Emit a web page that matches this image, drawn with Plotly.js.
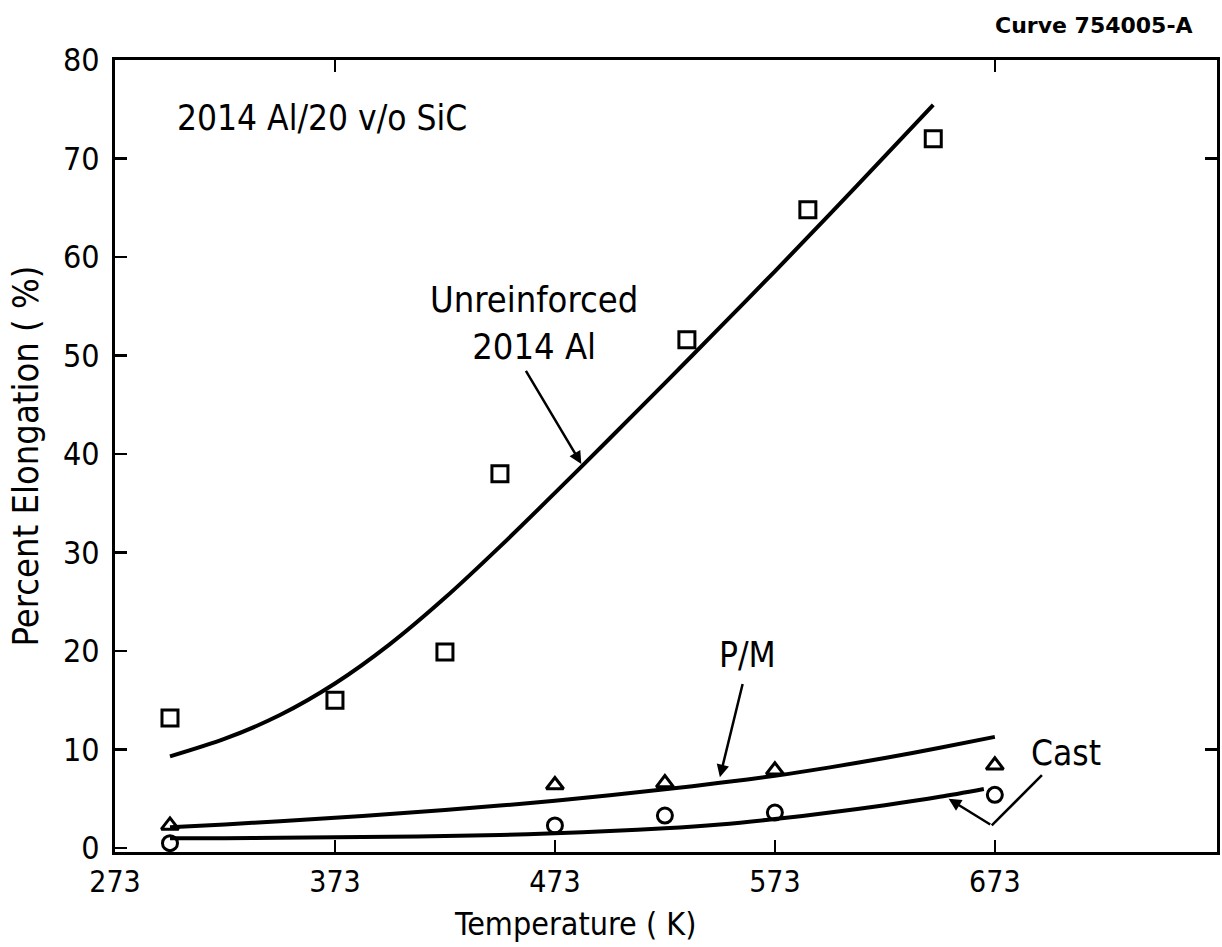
<!DOCTYPE html>
<html>
<head>
<meta charset="utf-8">
<script src="https://cdn.plot.ly/plotly-3.0.1.min.js"></script>
<style>html,body{margin:0;padding:0;background:#fff;}#chart{width:1222px;height:947px;}</style>
</head>
<body>
<div id="chart"></div>
<script>
// ---- data ----
var tempTicks = [273, 373, 473, 573, 673];
var elongTicks = [0, 10, 20, 30, 40, 50, 60, 70, 80];

// Unreinforced 2014 Al
var unrX = [298, 373, 423, 448, 533, 588, 645];
var unrY = [13.2, 15.0, 19.9, 38.0, 51.6, 64.8, 72.0];
var unrFitX = [298, 323, 348, 373, 398, 423, 448, 473, 498, 523, 548, 573, 598, 623, 645];
var unrFitY = [9.3, 11.1, 13.5, 16.7, 20.7, 25.4, 30.6, 36.05, 41.6, 47.2, 52.85, 58.55, 64.35, 70.25, 75.45];

// P/M composite
var pmX = [298, 473, 523, 573, 673];
var pmY = [2.3, 6.4, 6.6, 7.9, 8.4];
var pmFitX = [298, 323, 348, 373, 398, 423, 448, 473, 498, 523, 548, 573, 598, 623, 648, 673];
var pmFitY = [2.1, 2.4, 2.72, 3.07, 3.45, 3.86, 4.31, 4.81, 5.36, 5.96, 6.62, 7.34, 8.19, 9.14, 10.19, 11.29];

// Cast composite
var castX = [298, 473, 523, 573, 673];
var castY = [0.5, 2.3, 3.3, 3.6, 5.4];
var castFitX = [298, 323, 348, 373, 398, 423, 448, 473, 498, 523, 548, 573, 598, 623, 648, 668];
var castFitY = [1.0, 1.0, 1.05, 1.1, 1.15, 1.22, 1.33, 1.5, 1.72, 2.0, 2.4, 2.95, 3.6, 4.35, 5.2, 6.0];

var FONT = '"DejaVu Sans Condensed", "Liberation Sans Narrow", Arial, sans-serif';

function fit(x, y) {
  return {x: x, y: y, mode: 'lines', type: 'scatter', line: {color: '#000', width: 4, shape: 'spline', smoothing: 0.8},
          hoverinfo: 'skip', showlegend: false, cliponaxis: false};
}
function pts(x, y, sym, size) {
  return {x: x, y: y, mode: 'markers', type: 'scatter',
          marker: {symbol: sym, size: size, color: '#000', line: {color: '#000', width: 3}},
          showlegend: false, cliponaxis: false};
}

var traces = [
  fit(unrFitX, unrFitY), fit(pmFitX, pmFitY), fit(castFitX, castFitY),
  pts(unrX, unrY, 'square-open', 16),
  pts(pmX, pmY, 'triangle-up-open', 15),
  pts(castX, castY, 'circle-open', 15),
  {x: [], y: [], xaxis: 'x2', yaxis: 'y2', type: 'scatter', showlegend: false}
];

var txt = function (t, x, y, xa, size) {
  return {text: t, x: x, y: y, xref: 'x', yref: 'y', showarrow: false, xanchor: xa || 'center',
          yanchor: 'middle', font: {family: FONT, size: size || 34, color: '#000'}};
};
var arrow = function (x, y, ax, ay) {
  return {text: '', x: x, y: y, ax: ax, ay: ay, xref: 'x', yref: 'y', axref: 'x', ayref: 'y',
          showarrow: true, arrowhead: 2, arrowsize: 1, arrowwidth: 2.5, arrowcolor: '#000', standoff: 0};
};

var layout = {
  width: 1222, height: 947,
  margin: {l: 115, r: 5, t: 60, b: 95},
  paper_bgcolor: '#fff', plot_bgcolor: '#fff',
  font: {family: FONT, size: 34, color: '#000'},
  xaxis: {
    range: [273, 774], tickvals: tempTicks, ticktext: tempTicks.map(String),
    ticks: 'inside', ticklen: 12, tickwidth: 2.5, tickcolor: '#000',
    showline: true, linewidth: 3, linecolor: '#000', mirror: true,
    showgrid: false, zeroline: false, ticklabelstandoff: 1,
    tickfont: {family: FONT, size: 30, color: '#000'}
  },
  yaxis: {
    range: [-0.4, 80], tickvals: elongTicks, ticktext: elongTicks.map(String),
    ticks: 'inside', ticklen: 12, tickwidth: 2.5, tickcolor: '#000',
    showline: true, linewidth: 3, linecolor: '#000', mirror: true,
    showgrid: false, zeroline: false, ticklabelstandoff: 6,
    tickfont: {family: FONT, size: 32, color: '#000'},
    title: {text: 'Percent Elongation ( %)', font: {family: FONT, size: 36, color: '#000'}, standoff: 14}
  },
  xaxis2: {overlaying: 'x', side: 'top', matches: 'x', range: [273, 774], tickvals: [373, 673],
           ticks: 'inside', ticklen: 12, tickwidth: 2.5, tickcolor: '#000', showticklabels: false,
           showline: false, showgrid: false, zeroline: false},
  yaxis2: {overlaying: 'y', side: 'right', matches: 'y', range: [-0.4, 80], tickvals: [10, 70],
           ticks: 'inside', ticklen: 12, tickwidth: 2.5, tickcolor: '#000', showticklabels: false,
           showline: false, showgrid: false, zeroline: false},
  shapes: [
    {type: 'line', xref: 'x', yref: 'y', x0: 694.4, y0: 7.4, x1: 671.6, y1: 2.3, line: {color: '#000', width: 2.5}}
  ],
  annotations: [
    txt('2014 Al/20 v/o SiC', 300.3, 74.1, 'left', 35),
    txt('Unreinforced<br>2014 Al', 463.5, 53.3, 'center', 36),
    txt('P/M', 560.7, 19.6, 'center', 35),
    txt('Cast', 705.3, 9.7, 'center', 35),
    arrow(485, 39.0, 459.4, 48.6),
    arrow(548, 7.2, 558.5, 16.8),
    arrow(652, 5.0, 671.6, 2.3),
    {text: 'Temperature ( K)', xref: 'paper', yref: 'paper', x: 0.4174, y: -0.0909, xanchor: 'center', yanchor: 'middle',
     showarrow: false, font: {family: FONT, size: 32, color: '#000'}},
    {text: 'Curve 754005-A', xref: 'paper', yref: 'paper', x: 0.98, y: 1.044, xanchor: 'right', yanchor: 'middle',
     showarrow: false, font: {family: '"DejaVu Sans", sans-serif', size: 22, color: '#000', weight: 'bold'}}
  ]
};

Plotly.newPlot('chart', traces, layout, {staticPlot: true});
</script>
</body>
</html>
